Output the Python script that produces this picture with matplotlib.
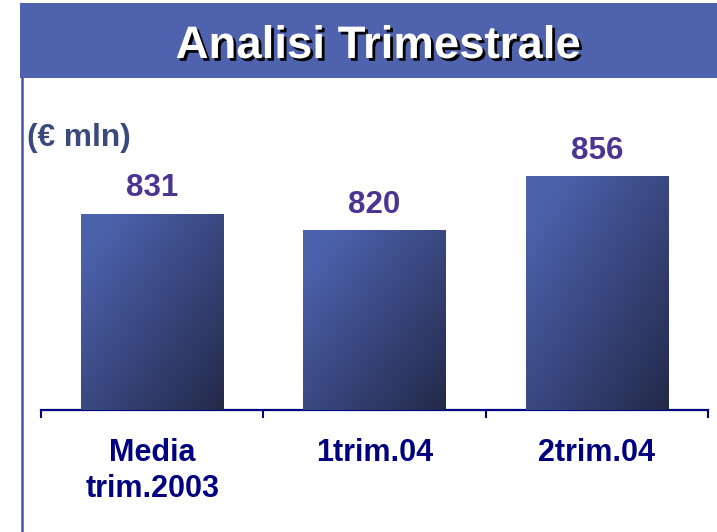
import numpy as np
import matplotlib
matplotlib.use("Agg")
import matplotlib.pyplot as plt
import matplotlib.patheffects as pe
from matplotlib.colors import to_rgb
from matplotlib.patches import Rectangle
from matplotlib.lines import Line2D

categories = ["Media\ntrim.2003", "1trim.04", "2trim.04"]
values = [831, 820, 856]
title = "Analisi Trimestrale"
unit_label = "(€ mln)"

plt.rcParams['font.family'] = ['Liberation Sans', 'DejaVu Sans']

W, H = 717, 532
fig = plt.figure(figsize=(W / 100, H / 100), dpi=100)
fig.patch.set_facecolor('white')

# banner
fig.patches.append(Rectangle((20 / W, 1 - 78 / H), (W - 20) / W, 75 / H,
                             transform=fig.transFigure, facecolor='#4e62ae',
                             edgecolor='none', zorder=0))
fig.text(378 / W, 1 - 58 / H, title, ha='center', va='baseline',
         fontsize=32.8, fontweight='bold', color='white',
         path_effects=[pe.withSimplePatchShadow(offset=(2, -2), shadow_rgbFace='black', alpha=1.0)])

# left vertical line
fig.add_artist(Line2D([22 / W, 22 / W], [0, 1 - 78 / H], transform=fig.transFigure,
                      color='#4a52a8', lw=1.8))

fig.text(27 / W, 1 - 146 / H, unit_label, ha='left', va='baseline',
         fontsize=22.8, fontweight='bold', color='#3b4a7c')

ax = fig.add_axes([41 / W, (H - 410) / H, (708 - 41) / W, 330 / H])
ax.set_facecolor('none')
x = np.arange(len(values))
ymin, ymax = 700, 920
bars = ax.bar(x, [v - ymin for v in values], bottom=ymin, width=0.64,
              color='#3a4a88', edgecolor='none', zorder=2)

light = np.array(to_rgb('#4c61ac'))
dark = np.array(to_rgb('#232949'))
n = 200
u = np.linspace(0, 1, n)
U, V = np.meshgrid(u, u)
t = np.clip((0.5 * U + 0.5 * V - 0.12) / 0.88, 0, 1)
img = light[None, None, :] * (1 - t[..., None]) + dark[None, None, :] * t[..., None]

for b in bars:
    x0, y0 = b.get_x(), b.get_y()
    w, h = b.get_width(), b.get_height()
    im = ax.imshow(img, extent=[x0, x0 + w, y0, y0 + h], aspect='auto',
                   origin='upper', zorder=3, interpolation='bilinear')
    im.set_clip_path(b)

for xi, v in zip(x, values):
    ax.annotate(str(v), xy=(xi, v), xytext=(0, 12.5), textcoords='offset points',
                ha='center', va='baseline', fontsize=22.5, fontweight='bold',
                color='#4a3592', zorder=4)

ax.set_xlim(-0.5, len(values) - 0.5)
ax.set_ylim(ymin, ymax)
ax.set_aspect('auto')

for s in ['top', 'right', 'left']:
    ax.spines[s].set_visible(False)
ax.spines['bottom'].set_color('#000080')
ax.spines['bottom'].set_linewidth(1.6)
ax.set_yticks([])
ax.set_xticks(x)
ax.set_xticklabels(categories, fontsize=22, fontweight='bold', color='#000080')
for lbl in ax.get_xticklabels():
    lbl.set_linespacing(1.25)
ax.tick_params(axis='x', which='major', length=0, pad=20.5)
ax.set_xticks([-0.5, 0.5, 1.5, 2.5], minor=True)
ax.tick_params(axis='x', which='minor', length=5.8, width=1.5, color='#000080', direction='out')

fig.savefig('out.png', dpi=100)
